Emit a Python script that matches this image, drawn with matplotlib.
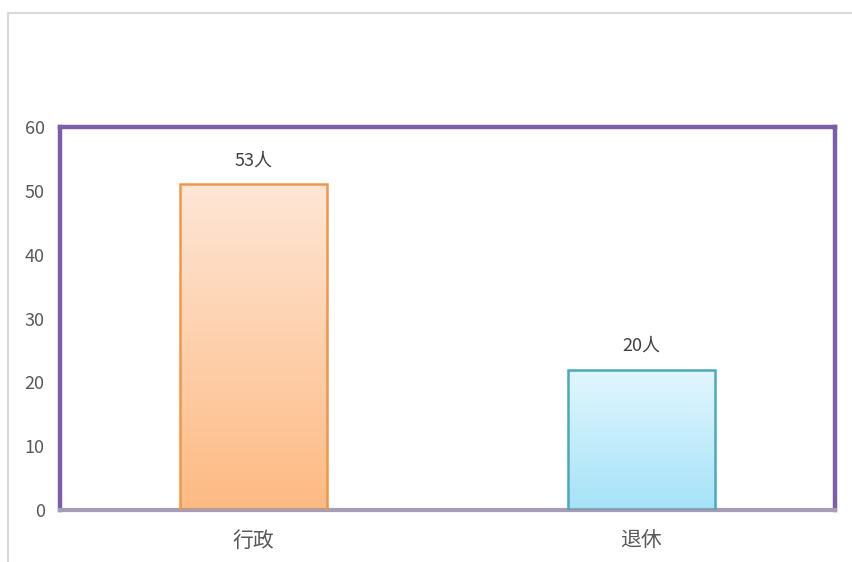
import numpy as np
import matplotlib
matplotlib.use("Agg")
import matplotlib.pyplot as plt
from matplotlib.lines import Line2D
from matplotlib.colors import LinearSegmentedColormap

plt.rcParams['font.family'] = ['Noto Sans CJK SC', 'DejaVu Sans']

categories = ["行政", "退休"]
values = [51, 22]
labels = ["53人", "20人"]
yticks = [0, 10, 20, 30, 40, 50, 60]

W, H = 852, 562
fig = plt.figure(figsize=(W / 100, H / 100), dpi=100)
ax = fig.add_axes([60 / W, 1 - 510 / H, (835 - 60) / W, (510 - 127) / H])

x = np.arange(len(categories))
bar_w = 0.38
edges = ["#F0964A", "#4BA9BA"]
grads = [("#FEE6D6", "#FDBA83"), ("#E3F6FD", "#A5E3F8")]
bars = ax.bar(x, values, width=bar_w, color="none", edgecolor=edges, linewidth=1.8, zorder=3)

ax.set_xlim(-0.5, len(categories) - 0.5)
ax.set_ylim(0, 60)

for b, (top_c, bot_c) in zip(bars, grads):
    cmap = LinearSegmentedColormap.from_list("g", [bot_c, top_c])
    grad = np.linspace(0, 1, 256).reshape(-1, 1)
    bx, by = b.get_x(), b.get_y()
    bw, bh = b.get_width(), b.get_height()
    im = ax.imshow(grad, cmap=cmap, aspect="auto", origin="lower",
                   extent=[bx, bx + bw, by, by + bh], zorder=2)
    im.set_clip_path(b)

for xi, v, lab in zip(x, values, labels):
    ax.annotate(lab, (xi, v), xytext=(0, 11), textcoords="offset points",
                ha="center", va="bottom", fontsize=13, color="#404040")

ax.set_xticks(x)
ax.set_xticklabels(categories, fontsize=15, color="#595959")
ax.set_yticks(yticks)
ax.set_yticklabels([str(t) for t in yticks], fontsize=13, color="#595959")
ax.tick_params(axis="both", length=0)
ax.tick_params(axis="x", pad=14)
ax.tick_params(axis="y", pad=11)

for s in ["left", "top", "right"]:
    ax.spines[s].set_color("#7B5EA7")
    ax.spines[s].set_linewidth(3.2)
ax.spines["bottom"].set_color("#A59CB6")
ax.spines["bottom"].set_linewidth(3)

# outer light frame
fig.add_artist(Line2D([8 / W, 1], [1 - 13 / H, 1 - 13 / H], transform=fig.transFigure,
                      color="#D9D9D9", linewidth=1.5))
fig.add_artist(Line2D([8 / W, 8 / W], [0, 1 - 13 / H], transform=fig.transFigure,
                      color="#D9D9D9", linewidth=1.5))

fig.savefig("out.png", dpi=100, facecolor="white")
